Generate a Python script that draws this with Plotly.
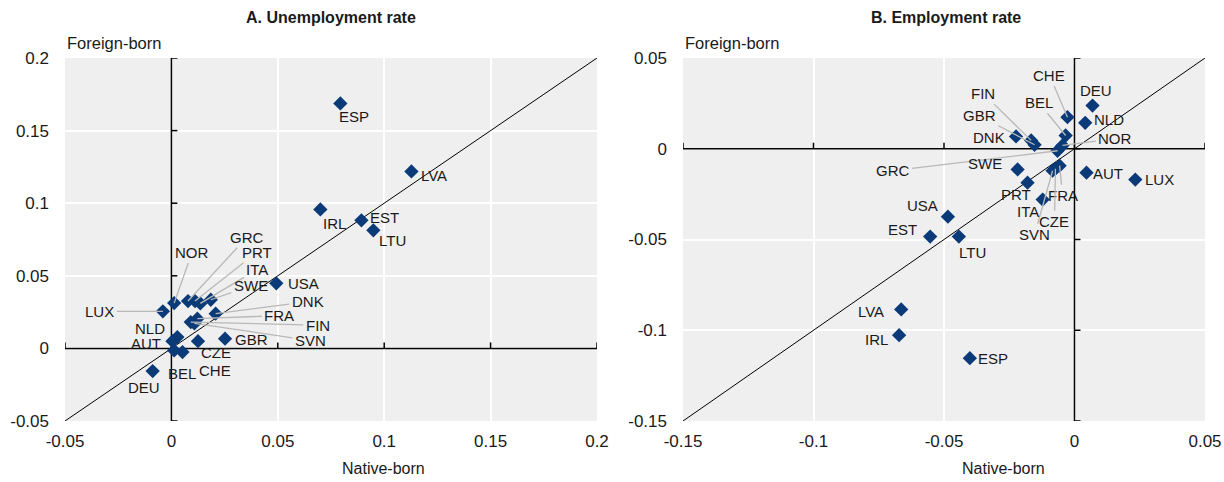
import plotly.graph_objects as go

# ---------------- Data ----------------
# Panel A: unemployment rate, native-born (x) vs foreign-born (y)
unemp_countries = ["ESP", "LVA", "IRL", "EST", "LTU", "USA", "LUX", "NOR", "GRC", "PRT",
                   "ITA", "SWE", "DNK", "FRA", "FIN", "SVN", "GBR", "CZE", "CHE", "BEL",
                   "NLD", "AUT", "DEU"]
unemp_native = [0.0794, 0.1128, 0.0700, 0.0893, 0.0949, 0.0493, -0.0040, 0.0013, 0.0078, 0.0111,
                0.0136, 0.0185, 0.0208, 0.0122, 0.0091, 0.0108, 0.0252, 0.0125, 0.0052, 0.0013,
                0.0028, 0.0005, -0.0088]
unemp_foreign = [0.1687, 0.1219, 0.0957, 0.0882, 0.0813, 0.0448, 0.0255, 0.0312, 0.0326, 0.0326,
                 0.0310, 0.0335, 0.0239, 0.0205, 0.0181, 0.0172, 0.0067, 0.0050, -0.0025, -0.0014,
                 0.0078, 0.0050, -0.0156]

# Panel B: employment rate, native-born (x) vs foreign-born (y)
emp_countries = ["DEU", "NLD", "CHE", "BEL", "FIN", "GBR", "DNK", "NOR", "GRC", "SWE",
                 "PRT", "FRA", "CZE", "SVN", "ITA", "AUT", "LUX", "USA", "EST", "LTU",
                 "LVA", "IRL", "ESP"]
emp_native = [0.0069, 0.0041, -0.0027, -0.0034, -0.0166, -0.0153, -0.0224, -0.0046, -0.0065, -0.0218,
              -0.0180, -0.0057, -0.0073, -0.0084, -0.0122, 0.0046, 0.0233, -0.0485, -0.0553, -0.0443,
              -0.0664, -0.0672, -0.0401]
emp_foreign = [0.0238, 0.0143, 0.0174, 0.0073, 0.0046, 0.0022, 0.0068, 0.0018, -0.0011, -0.0114,
               -0.0187, -0.0093, -0.0110, -0.0121, -0.0280, -0.0132, -0.0170, -0.0374, -0.0484, -0.0484,
               -0.0885, -0.1027, -0.1154]

# Axis ticks
unemp_ticks = [-0.05, 0, 0.05, 0.1, 0.15, 0.2]
unemp_tick_labels = ["-0.05", "0", "0.05", "0.1", "0.15", "0.2"]
emp_ticks = [-0.15, -0.1, -0.05, 0, 0.05]
emp_tick_labels = ["-0.15", "-0.1", "-0.05", "0", "0.05"]

# Label placement: pixel offset of the label centre from its marker, and whether a leader line is drawn
unemp_label_pos = {
    "ESP": (14, 13, False), "LVA": (23, 4, False), "IRL": (14, 14, False), "EST": (23, -3, False),
    "LTU": (19, 10, False), "USA": (27, 0, False), "LUX": (-63, 0, True), "NOR": (18, -51, True),
    "GRC": (59, -64, True), "PRT": (62, -49, True), "ITA": (57, -34, True), "SWE": (40, -14, True),
    "DNK": (92, -12, True), "FRA": (82, -3, True), "FIN": (127, 3, True), "SVN": (116, 17, True),
    "GBR": (26, 1, False), "CZE": (18, 11, False), "CHE": (33, 18, False), "BEL": (8, 23, False),
    "NLD": (-27, -9, False), "AUT": (-26, 2, False), "DEU": (-9, 16, False),
}
emp_label_pos = {
    "DEU": (3, -15, False), "NLD": (24, -3, False), "CHE": (-18, -42, True), "BEL": (-27, -33, True),
    "FIN": (-48, -47, True), "GBR": (-55, -29, True), "DNK": (-27, 1, False), "NOR": (53, -7, True),
    "GRC": (-165, 20, True), "SWE": (-33, -6, False), "PRT": (-12, 12, False), "FRA": (3, 30, True),
    "CZE": (-1, 53, True), "SVN": (-18, 64, True), "ITA": (-15, 12, False), "AUT": (21, 1, False),
    "LUX": (24, 0, False), "USA": (-25, -11, False), "EST": (-28, -7, False), "LTU": (14, 16, False),
    "LVA": (-30, 2, False), "IRL": (-23, 4, False), "ESP": (23, 0, False),
}

# ---------------- Styling ----------------
FONT = "Liberation Sans, Arial, sans-serif"
TEXT = "#1a1a1a"
MARKER = "#0b3a78"
LEADER = "#b8b8b8"
BG = "#efefef"

W, H = 1224, 482
panels = [
    dict(xa="x", ya="y", xdom=(65 / W, 597 / W), ticks=unemp_ticks, labels=unemp_tick_labels,
         countries=unemp_countries, nx=unemp_native, fy=unemp_foreign, pos=unemp_label_pos,
         title="A. Unemployment rate", title_x=331, xtitle_x=383),
    dict(xa="x2", ya="y2", xdom=(683 / W, 1205 / W), ticks=emp_ticks, labels=emp_tick_labels,
         countries=emp_countries, nx=emp_native, fy=emp_foreign, pos=emp_label_pos,
         title="B. Employment rate", title_x=946, xtitle_x=1003),
]
ydom = (1 - 421 / H, 1 - 58 / H)

fig = go.Figure()
shapes = []
annotations = []

for i, p in enumerate(panels):
    lo, hi = p["ticks"][0], p["ticks"][-1]
    # 45-degree reference line
    fig.add_trace(go.Scatter(x=[lo, hi], y=[lo, hi], mode="lines",
                             line=dict(color="black", width=1),
                             xaxis=p["xa"], yaxis=p["ya"], hoverinfo="skip", showlegend=False))
    # country markers
    fig.add_trace(go.Scatter(x=p["nx"], y=p["fy"], mode="markers", text=p["countries"],
                             marker=dict(symbol="diamond", size=11, color=MARKER),
                             xaxis=p["xa"], yaxis=p["ya"], showlegend=False))

    # zero axes with one-sided tick marks
    shapes.append(dict(type="line", xref=p["xa"], yref=p["ya"], x0=0, x1=0, y0=lo, y1=hi,
                       line=dict(color="black", width=1.5), layer="between"))
    shapes.append(dict(type="line", xref=p["xa"], yref=p["ya"], x0=lo, x1=hi, y0=0, y1=0,
                       line=dict(color="black", width=1.5), layer="between"))
    for t in p["ticks"]:
        shapes.append(dict(type="line", xref=p["xa"], yref=p["ya"], xsizemode="pixel", xanchor=0,
                           x0=0, x1=6, y0=t, y1=t, line=dict(color="black", width=1.5), layer="between"))
        shapes.append(dict(type="line", xref=p["xa"], yref=p["ya"], ysizemode="pixel", yanchor=0,
                           y0=0, y1=6, x0=t, x1=t, line=dict(color="black", width=1.5), layer="between"))

    # country labels
    for c, xv, yv in zip(p["countries"], p["nx"], p["fy"]):
        dx, dy, lead = p["pos"][c]
        base = dict(x=xv, y=yv, xref=p["xa"], yref=p["ya"], text=c,
                    font=dict(family=FONT, size=15, color=TEXT))
        if lead:
            base.update(showarrow=True, ax=dx, ay=dy, arrowhead=0, arrowwidth=1.3,
                        arrowcolor=LEADER, standoff=0, startstandoff=1)
        else:
            base.update(showarrow=False, xshift=dx, yshift=-dy)
        annotations.append(base)

    # panel titles and axis titles
    annotations.append(dict(x=p["title_x"] / W, y=1 - 18 / H, xref="paper", yref="paper",
                            xanchor="center", yanchor="middle",
                            text="<b>" + p["title"] + "</b>", showarrow=False,
                            font=dict(family=FONT, size=16, color=TEXT)))
    annotations.append(dict(x=p["xdom"][0], y=1 - 43 / H, xref="paper", yref="paper",
                            xanchor="left", yanchor="middle",
                            text="Foreign-born", showarrow=False,
                            font=dict(family=FONT, size=16.5, color=TEXT)))
    annotations.append(dict(x=p["xtitle_x"] / W, y=1 - 468 / H, xref="paper", yref="paper",
                            xanchor="center", yanchor="middle",
                            text="Native-born", showarrow=False,
                            font=dict(family=FONT, size=16, color=TEXT)))

axis_common = dict(showgrid=True, gridcolor="white", gridwidth=1.5, zeroline=False,
                   showline=False, ticks="", tickfont=dict(family=FONT, size=17, color=TEXT),
                   tickmode="array", automargin=False, ticklabeloverflow="allow")

layout = dict(width=W, height=H, margin=dict(l=0, r=0, t=0, b=0),
              paper_bgcolor="white", plot_bgcolor=BG, showlegend=False,
              shapes=shapes, annotations=annotations)
for i, p in enumerate(panels):
    sfx = "" if i == 0 else "2"
    lo, hi = p["ticks"][0], p["ticks"][-1]
    layout["xaxis" + sfx] = dict(axis_common, domain=list(p["xdom"]), range=[lo, hi],
                                 tickvals=p["ticks"], ticktext=p["labels"],
                                 anchor="y" + sfx, ticklabelstandoff=8)
    layout["yaxis" + sfx] = dict(axis_common, domain=list(ydom), range=[lo, hi],
                                 tickvals=p["ticks"], ticktext=p["labels"],
                                 anchor="x" + sfx, ticklabelstandoff=15)

fig.update_layout(**layout)
fig.write_html("out.html")
